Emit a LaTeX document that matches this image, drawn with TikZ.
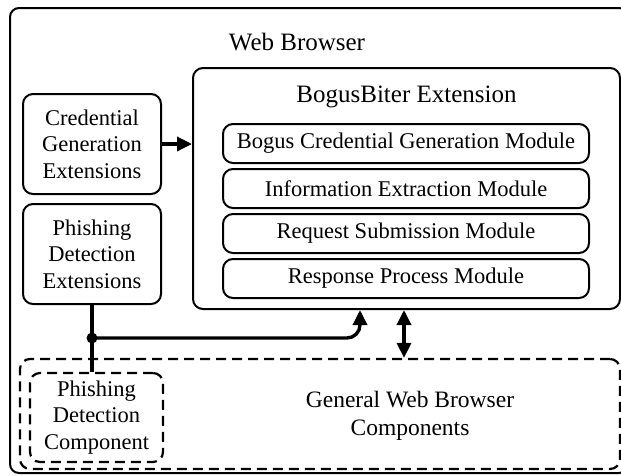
\documentclass[tikz,border=0pt]{standalone}
\usepackage{fontspec}
\setmainfont{Liberation Serif}
\usetikzlibrary{arrows.meta,calc}

\tikzset{
  boxtext/.style={font=\fontsize{22.5}{26.5}\selectfont, align=center},
  titletext/.style={font=\fontsize{25}{29}\selectfont},
  solidbox/.style={draw, line width=2pt, rounded corners=10pt, inner sep=0pt},
  dashbox/.style={draw, line width=2.2pt, rounded corners=10pt, inner sep=0pt,
    dash pattern=on 10pt off 6pt},
  modbox/.style={solidbox, boxtext, minimum width=366pt, minimum height=39pt},
  sidebox/.style={solidbox, boxtext, minimum width=138pt, minimum height=100pt},
  heavy/.style={line width=3.4pt},
  heavyarrow/.style={heavy, -{Triangle[length=15pt,width=14pt]}},
  heavydouble/.style={heavy, {Triangle[length=15pt,width=14pt]}-{Triangle[length=15pt,width=14pt]}},
}

\begin{document}
\begin{tikzpicture}[x=1pt,y=-1pt]
  \path[use as bounding box, clip] (0,0) rectangle (621,475);
  \fill[white] (0,0) rectangle (621,475);

  % browser frame (its right side runs past the page edge)
  \node[solidbox, rounded corners=9pt, minimum width=618pt, minimum height=465pt]
    (browser) at (319,240.5) {};
  \node[titletext] (browsertitle) at (297,42) {Web Browser};

  % BogusBiter extension with its four modules
  \node[solidbox, minimum width=427pt, minimum height=241pt] (bogus) at (406.5,188.5) {};
  \node[titletext] (bogustitle) at (406.5,97) {BogusBiter Extension};
  \node[modbox] (mgen)  at (406,143.5) {Bogus Credential Generation Module};
  \node[modbox] (minfo) at (406,188.5) {Information Extraction Module};
  \node[modbox] (mreq)  at (406,233.5) {Request Submission Module};
  \node[modbox] (mresp) at (406,278.5) {Response Process Module};

  % other extensions
  \node[sidebox] (cred)  at (92,144) {Credential\\Generation\\Extensions};
  \node[sidebox] (phext) at (92,254) {Phishing\\Detection\\Extensions};

  % general browser components
  \node[dashbox, minimum width=600pt, minimum height=110pt] (general) at (320,414) {};
  \node[dashbox, boxtext, minimum width=133pt, minimum height=89pt]
    (phcomp) at (96.5,417.5) {Phishing\\Detection\\Component};
  \node[boxtext, font=\fontsize{23.5}{28}\selectfont] (gentext) at (410,416)
    {General Web Browser\\Components};

  % connectors
  \draw[heavyarrow] (cred.east) -- (bogus.west |- cred.east);

  \coordinate (junction) at (92,338);
  \coordinate (busx) at (360,0);
  \coordinate (duplex) at (404,0);
  \draw[heavy] (phext.south) -- (phext.south |- phcomp.north);
  \draw[heavyarrow, rounded corners=13pt] (junction) -| (busx |- bogus.south);
  \fill (junction) circle (5.5);
  \draw[heavydouble] (duplex |- bogus.south) -- (duplex |- general.north);
\end{tikzpicture}
\end{document}
